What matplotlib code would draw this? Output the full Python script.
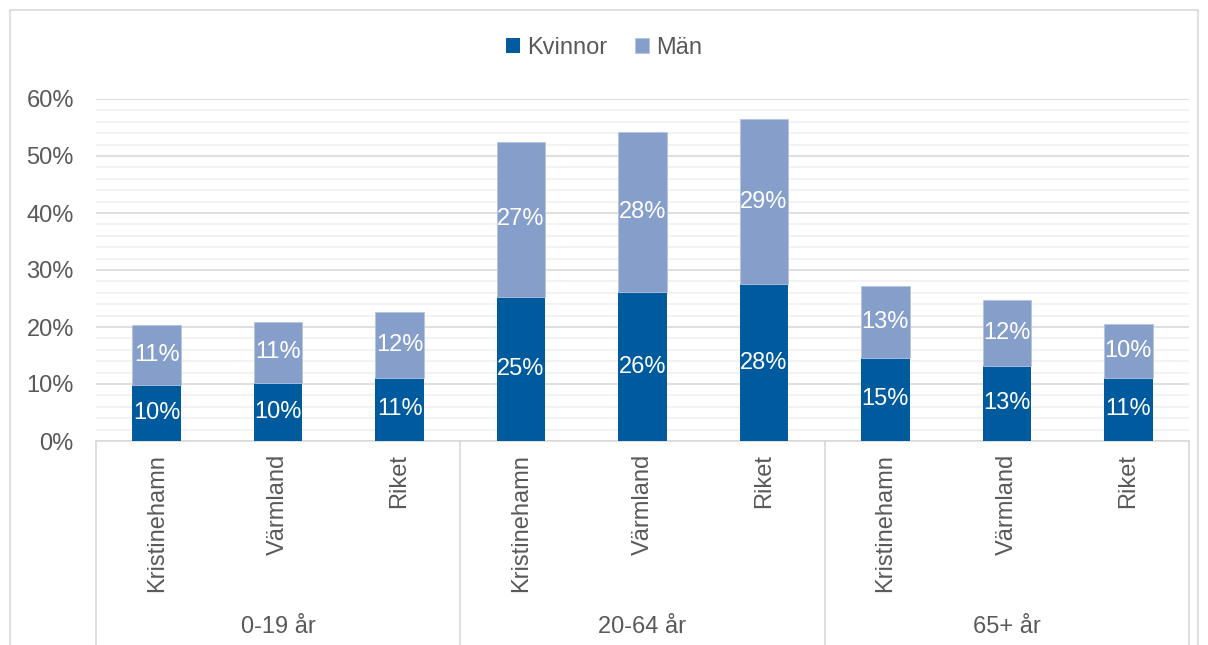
import numpy as np
import matplotlib.pyplot as plt
from matplotlib.patches import Rectangle
from matplotlib.lines import Line2D
import matplotlib.transforms as mtransforms

plt.rcParams['font.family'] = ['Liberation Sans', 'DejaVu Sans']

# data (share of population, %)
places = ['Kristinehamn', 'Värmland', 'Riket']
groups = ['0-19 år', '20-64 år', '65+ år']
kvinnor = [9.8, 10.2, 11.1, 25.3, 26.1, 27.5, 14.6, 13.2, 11.1]
man = [10.6, 10.7, 11.5, 27.2, 28.1, 29.0, 12.6, 11.6, 9.5]
series_names = ['Kvinnor', 'Män']

c_k = '#005a9e'
c_m = '#859fca'
txt = '#595959'
fs = 17

fig = plt.figure(figsize=(12.08, 6.45), dpi=100)
ax = fig.add_axes([96/1208, 1-441/645, (1189-96)/1208, (441-99)/645])

x = np.arange(len(kvinnor))
k = np.array(kvinnor) / 100
m = np.array(man) / 100
w = 0.40
b1 = ax.bar(x, k, w, color=c_k, label=series_names[0], zorder=3)
b2 = ax.bar(x, m, w, bottom=k, color=c_m, label=series_names[1], zorder=3,
            edgecolor='#b4c4e0', linewidth=0.6)

for xi, kv, mv in zip(x, kvinnor, man):
    ax.text(xi, kv/200, f'{kv:.0f}%', ha='center', va='center', color='white', fontsize=fs, zorder=4)
    ax.text(xi, kv/100 + mv/200, f'{mv:.0f}%', ha='center', va='center', color='white', fontsize=fs, zorder=4)

ax.set_xlim(-0.5, len(x) - 0.5)
ax.set_ylim(0, 0.6)
ax.set_yticks(np.arange(0, 0.61, 0.1))
ax.set_yticklabels([f'{int(round(v*100))}%' for v in np.arange(0, 0.61, 0.1)])
ax.set_yticks(np.arange(0, 0.61, 0.02), minor=True)
ax.tick_params(axis='y', which='both', length=0, labelsize=fs, labelcolor=txt, pad=16)
ax.tick_params(axis='x', which='both', length=0, labelbottom=False)
ax.grid(axis='y', which='minor', color='#f0f0f0', linewidth=1.2, zorder=0)
ax.grid(axis='y', which='major', color='#d9d9d9', linewidth=1.2, zorder=1)
for s in ['top', 'right', 'left']:
    ax.spines[s].set_visible(False)
ax.spines['bottom'].set_color('#d9d9d9')
ax.spines['bottom'].set_linewidth(1.2)

# multi-level category axis
trans = mtransforms.blended_transform_factory(ax.transData, fig.transFigure)
for i, xi in enumerate(x):
    ax.text(xi, 1-454/645, places[i % 3], rotation=90, ha='center', va='top',
            fontsize=fs, color=txt, transform=trans, clip_on=False)
for gi, g in enumerate(groups):
    ax.text(gi*3 + 1, 1-627/645, g, ha='center', va='center', fontsize=fs,
            color=txt, transform=trans, clip_on=False)
for xs in [-0.5, 2.5, 5.5, 8.5]:
    ax.add_line(Line2D([xs, xs], [1-441/645, 0], transform=trans, color='#d9d9d9',
                       linewidth=1.2, clip_on=False))

fig.legend(handles=[b1, b2], loc='center', bbox_to_anchor=(0.5, 1-48/645), ncol=2,
           frameon=False, fontsize=fs, labelcolor=txt, handlelength=0.6, handleheight=0.6,
           handletextpad=0.3, columnspacing=1.2)

fig.patches.append(Rectangle((10/1208, -0.01), (1198-10)/1208, 1-10/645+0.01,
                             transform=fig.transFigure, fill=False, edgecolor='#d9d9d9',
                             linewidth=1.2))

fig.savefig('out.png', dpi=100)
